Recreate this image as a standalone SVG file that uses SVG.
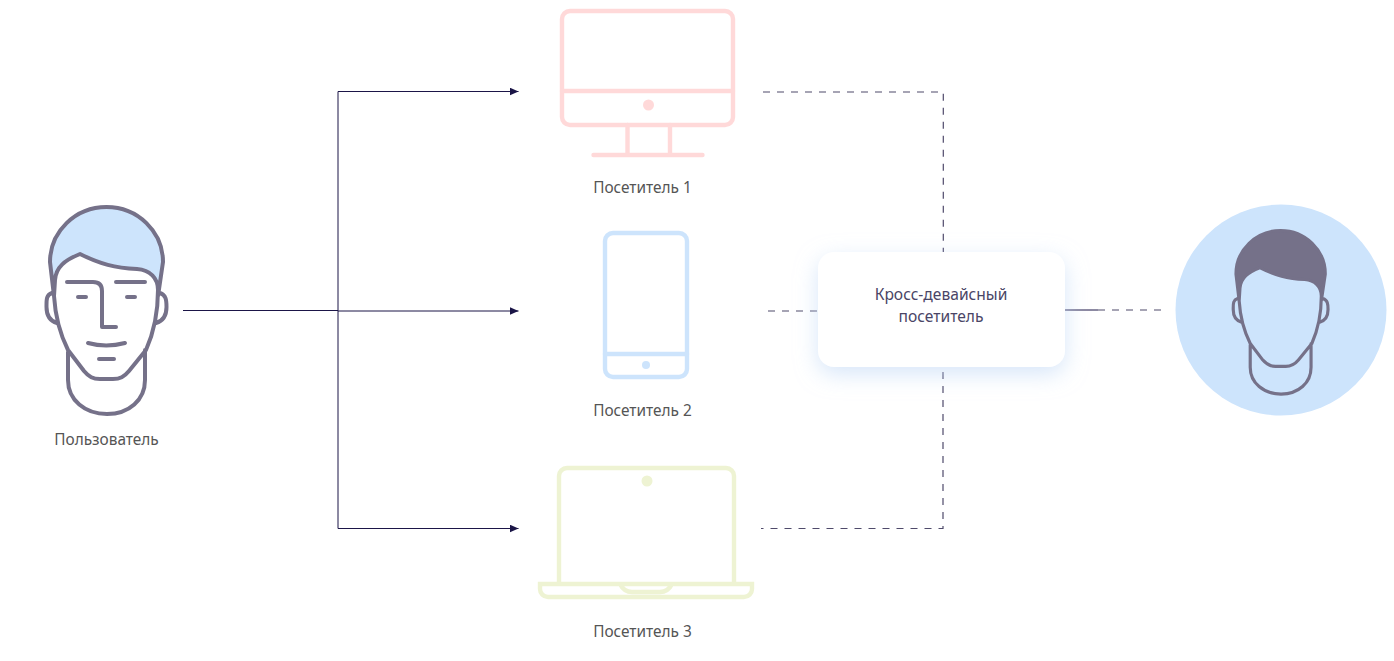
<svg xmlns="http://www.w3.org/2000/svg" xmlns:xlink="http://www.w3.org/1999/xlink" width="1394" height="661" viewBox="0 0 1394 661">
<style>
text{font-family:"Noto Sans","Open Sans",sans-serif;font-size:15.4px;text-anchor:middle;fill:#555}
.card-t{fill:#4a4566;font-size:15.6px}
.head{fill:none;stroke:#757189;stroke-width:4;stroke-linecap:round;stroke-linejoin:round}
.solid{fill:none;stroke:#1b1547;stroke-width:1}
.dash{fill:none;stroke:#4f4a6b;stroke-width:1.200;stroke-dasharray:7 7}
.pink{fill:none;stroke:#ffd9d9;stroke-width:4.400;stroke-linecap:round}
.blue{fill:none;stroke:#cde4fc;stroke-width:4.400;stroke-linecap:round}
.green{fill:none;stroke:#eef3d3;stroke-width:4.400}
</style>
<defs>
<marker id="arr" markerUnits="userSpaceOnUse" markerWidth="10" markerHeight="9" refX="9" refY="4" orient="auto"><path d="M0 0L9 4L0 8z" fill="#1b1547"/></marker>
<filter id="sh" x="-20%" y="-40%" width="140%" height="190%"><feDropShadow dx="0" dy="7" stdDeviation="11" flood-color="#bcd5f5" flood-opacity=".6"/></filter>
<path id="hairshape" d="M54 296L50 262A56.500 55 0 0 1 163 262L158 296C158 278 150 270 137 269C115 268 100 264 80 254C65 260 56 267 55 280Z"/>
<path id="outline" d="M52 293C46 295 46.500 300 46.500 307C46.500 315 50 321 57 323M160 293C166 295 166.500 300 166.500 307C166.500 315 163 321 156 323M68 352V380C68 400 85 414 107 414C129 414 145 400 145 380V350M54 296L50 262A56.500 55 0 0 1 163 262L158 296M54 296C55 312 58 330 68 350L84 371C89 377 93 379 100 379H113C120 379 124 377 129 371L146 350C154 332 158 312 158 290C158 278 150 270 137 269C115 268 100 264 80 254C65 260 56 267 55 280Z"/>
</defs>
<g id="connectors">
<path class="solid" d="M183 310.500H338"/>
<path class="solid" d="M338 310.500V91.500H518.500" marker-end="url(#arr)"/>
<path class="solid" d="M338 311H518.500" marker-end="url(#arr)"/>
<path class="solid" d="M338 310.500V528.500H518.500" marker-end="url(#arr)"/>
<path class="dash" d="M763 92H943.300V252"/>
<path class="dash" d="M768 311H818"/>
<path class="dash" d="M943 372V528.500H761"/>
<path class="solid" d="M1064 310H1098"/>
<path class="dash" d="M1098 310H1162"/>
</g>
<g id="user">
<use xlink:href="#hairshape" href="#hairshape" fill="#cde4fc"/>
<use xlink:href="#outline" href="#outline" class="head"/>
<path class="head" d="M67 282H93C99 282 102 285 102 291V327H116M116 282H145M78 297H86M127 297H135M88 343Q106 348 125 343M99 359H114"/>
<text x="106.500" y="445">Пользователь</text>
</g>
<g id="visitor-1">
<rect class="pink" x="562" y="11" width="171" height="114" rx="8"/>
<path class="pink" d="M562 91H733M627.500 125V155M670 125V155M593.500 155H702.500"/>
<circle cx="648.500" cy="105" r="5.500" fill="#ffd9d9"/>
<text x="642.500" y="193">Посетитель 1</text>
</g>
<g id="visitor-2">
<rect class="blue" x="605" y="233" width="82" height="144" rx="8"/>
<path class="blue" d="M605 354H687"/>
<circle cx="646" cy="365" r="4" fill="#cde4fc"/>
<text x="642.500" y="416">Посетитель 2</text>
</g>
<g id="visitor-3">
<path class="green" d="M559 582V476a8 8 0 0 1 8-8H726a8 8 0 0 1 8 8V582"/>
<path class="green" d="M540 584H752V589a8 8 0 0 1-8 8H548a8 8 0 0 1-8-8ZM620 584Q624 592 632 592H660Q668 592 672 584"/>
<circle cx="647" cy="481" r="5.500" fill="#eef3d3"/>
<text x="642.500" y="637">Посетитель 3</text>
</g>
<g id="cross-device">
<rect x="818" y="252" width="247" height="115" rx="16" fill="#fff" filter="url(#sh)"/>
<text class="card-t" x="941" y="300">Кросс-девайсный</text>
<text class="card-t" x="941" y="322">посетитель</text>
</g>
<g id="identified">
<circle cx="1281" cy="310" r="105.500" fill="#cde4fc"/>
<g transform="translate(1196.500 67) scale(.79)">
<use xlink:href="#hairshape" href="#hairshape" fill="#757189"/>
<use xlink:href="#outline" href="#outline" class="head"/>
</g>
</g>
</svg>
